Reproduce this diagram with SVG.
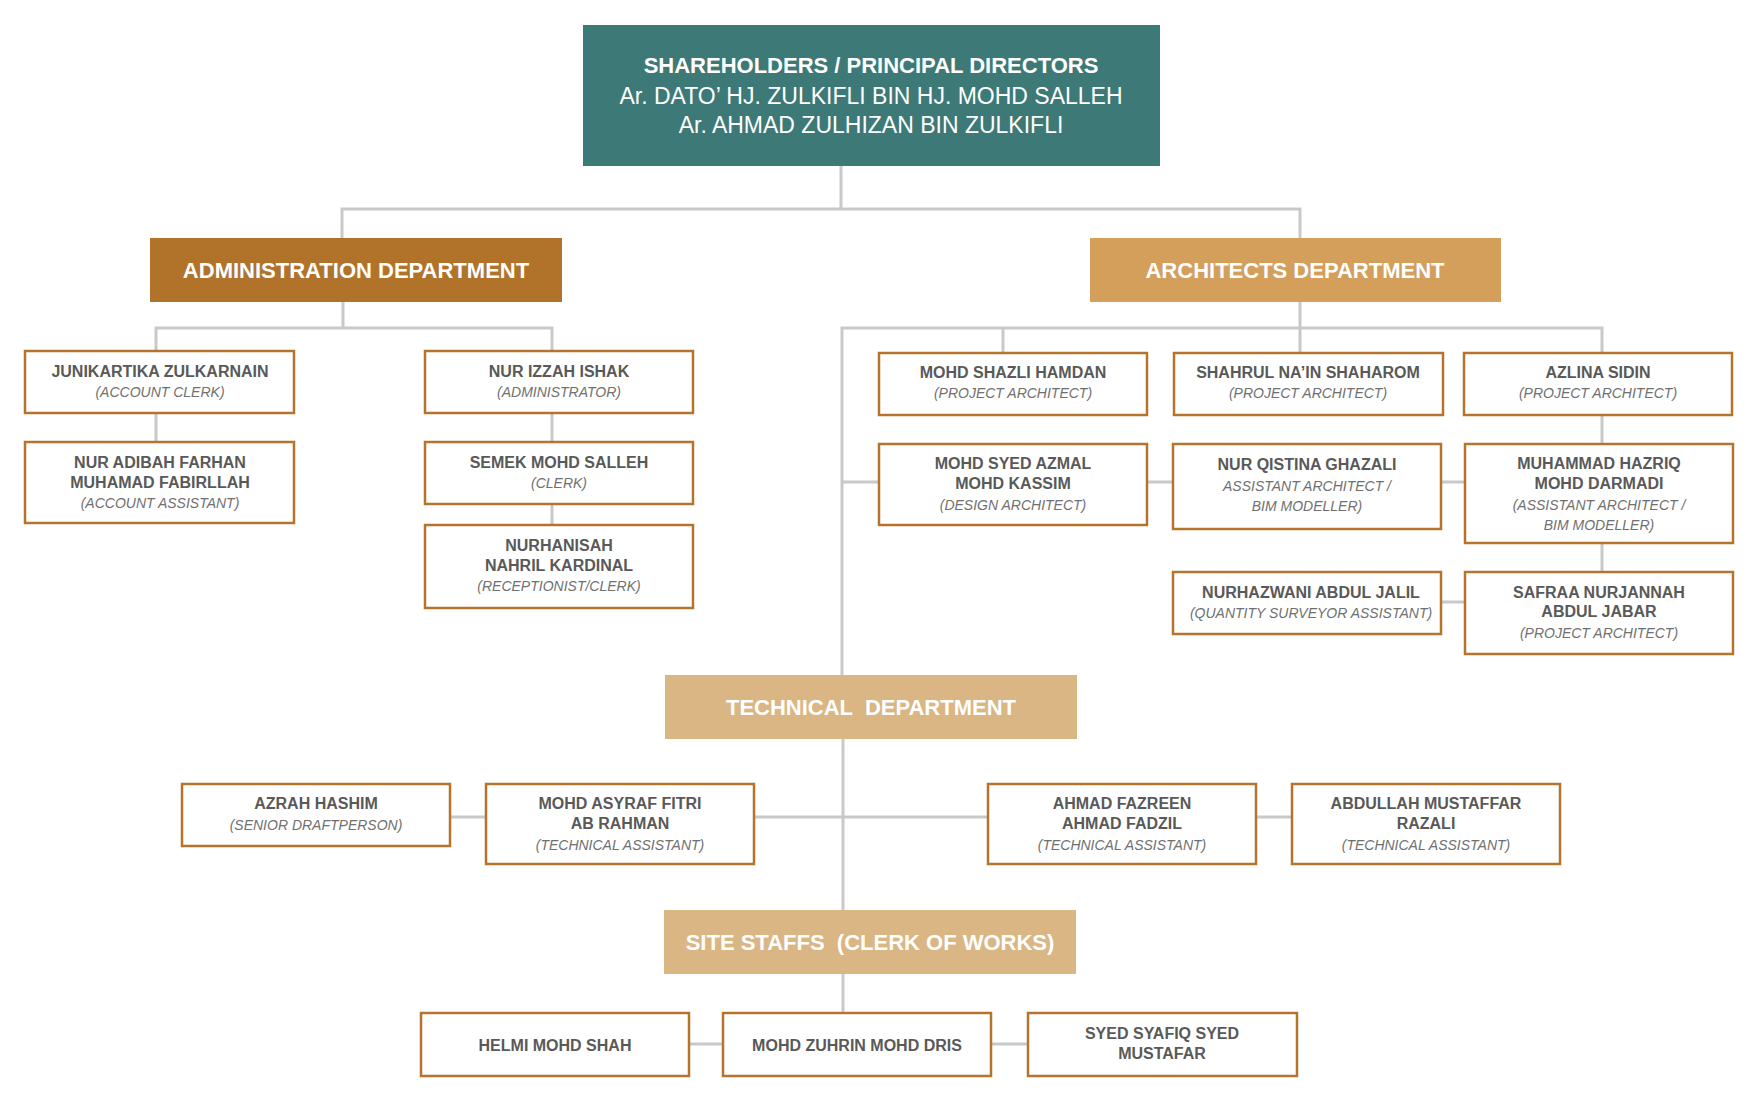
<svg xmlns="http://www.w3.org/2000/svg" width="1762" height="1109" viewBox="0 0 1762 1109">
<style>
.bg{fill:#ffffff}
.conn{fill:none;stroke:#c9c9c9;stroke-width:3}
.box{fill:#ffffff;stroke:#b5742b;stroke-width:2.5}
.nm{font-family:"Liberation Sans",Arial,sans-serif;font-weight:bold;font-size:16px;fill:#595959;text-anchor:middle}
.rl{font-family:"Liberation Sans",Arial,sans-serif;font-style:italic;font-size:14px;fill:#707070;text-anchor:middle}
.hd{font-family:"Liberation Sans",Arial,sans-serif;font-weight:bold;font-size:22px;fill:#ffffff;text-anchor:middle}
.tp{font-family:"Liberation Sans",Arial,sans-serif;font-size:23px;fill:#ffffff;text-anchor:middle}
</style>
<rect class="bg" x="0" y="0" width="1762" height="1109"/>
<g id="connectors">
<path class="conn" d="M841 166 V209"/>
<path class="conn" d="M342 238 V209 H1300 V238"/>
<path class="conn" d="M343 302 V328"/>
<path class="conn" d="M156 351 V328 H552 V351"/>
<path class="conn" d="M156 413 V442"/>
<path class="conn" d="M552 413 V442"/>
<path class="conn" d="M552 504 V525"/>
<path class="conn" d="M1300 302 V353"/>
<path class="conn" d="M842 675 V328 H1602 V353"/>
<path class="conn" d="M1003 328 V353"/>
<path class="conn" d="M842 482 H879"/>
<path class="conn" d="M1147 482 H1173"/>
<path class="conn" d="M1441 482 H1465"/>
<path class="conn" d="M1602 415 V444"/>
<path class="conn" d="M1602 543 V572"/>
<path class="conn" d="M1441 602 H1465"/>
<path class="conn" d="M843 739 V910"/>
<path class="conn" d="M450 817 H486"/>
<path class="conn" d="M754 817 H988"/>
<path class="conn" d="M1256 817 H1292"/>
<path class="conn" d="M843 974 V1013"/>
<path class="conn" d="M689 1044 H723"/>
<path class="conn" d="M991 1044 H1028"/>
</g>
<g id="top">
<rect x="583" y="25" width="577" height="141" fill="#3d7976"/>
<text class="hd" x="871" y="73">SHAREHOLDERS / PRINCIPAL DIRECTORS</text>
<text class="tp" x="871" y="104">Ar. DATO’ HJ. ZULKIFLI BIN HJ. MOHD SALLEH</text>
<text class="tp" x="871" y="133">Ar. AHMAD ZULHIZAN BIN ZULKIFLI</text>
</g>
<g id="admin-dept">
<rect x="150" y="238" width="412" height="64" fill="#b1732a"/>
<text class="hd" x="356" y="278">ADMINISTRATION DEPARTMENT</text>
</g>
<g id="arch-dept">
<rect x="1090" y="238" width="411" height="64" fill="#d49e5b"/>
<text class="hd" x="1295" y="278">ARCHITECTS DEPARTMENT</text>
</g>
<g id="tech-dept">
<rect x="665" y="675" width="412" height="64" fill="#d9b684"/>
<text class="hd" x="871" y="715" xml:space="preserve">TECHNICAL  DEPARTMENT</text>
</g>
<g id="site-dept">
<rect x="664" y="910" width="412" height="64" fill="#d9b684"/>
<text class="hd" x="870" y="950" xml:space="preserve">SITE STAFFS  (CLERK OF WORKS)</text>
</g>
<g id="junikartika">
<rect class="box" x="25" y="351" width="269" height="62"/>
<text class="nm" x="160" y="377">JUNIKARTIKA ZULKARNAIN</text>
<text class="rl" x="160" y="397">(ACCOUNT CLERK)</text>
</g>
<g id="nur-adibah">
<rect class="box" x="25" y="442" width="269" height="81"/>
<text class="nm" x="160" y="468">NUR ADIBAH FARHAN</text>
<text class="nm" x="160" y="488">MUHAMAD FABIRLLAH</text>
<text class="rl" x="160" y="508">(ACCOUNT ASSISTANT)</text>
</g>
<g id="nur-izzah">
<rect class="box" x="425" y="351" width="268" height="62"/>
<text class="nm" x="559" y="377">NUR IZZAH ISHAK</text>
<text class="rl" x="559" y="397">(ADMINISTRATOR)</text>
</g>
<g id="semek">
<rect class="box" x="425" y="442" width="268" height="62"/>
<text class="nm" x="559" y="468">SEMEK MOHD SALLEH</text>
<text class="rl" x="559" y="488">(CLERK)</text>
</g>
<g id="nurhanisah">
<rect class="box" x="425" y="525" width="268" height="83"/>
<text class="nm" x="559" y="551">NURHANISAH</text>
<text class="nm" x="559" y="571">NAHRIL KARDINAL</text>
<text class="rl" x="559" y="591">(RECEPTIONIST/CLERK)</text>
</g>
<g id="mohd-shazli">
<rect class="box" x="879" y="353" width="268" height="62"/>
<text class="nm" x="1013" y="378">MOHD SHAZLI HAMDAN</text>
<text class="rl" x="1013" y="398">(PROJECT ARCHITECT)</text>
</g>
<g id="shahrul">
<rect class="box" x="1174" y="353" width="269" height="62"/>
<text class="nm" x="1308" y="378">SHAHRUL NA’IN SHAHAROM</text>
<text class="rl" x="1308" y="398">(PROJECT ARCHITECT)</text>
</g>
<g id="azlina">
<rect class="box" x="1464" y="353" width="268" height="62"/>
<text class="nm" x="1598" y="378">AZLINA SIDIN</text>
<text class="rl" x="1598" y="398">(PROJECT ARCHITECT)</text>
</g>
<g id="mohd-syed">
<rect class="box" x="879" y="444" width="268" height="81"/>
<text class="nm" x="1013" y="469">MOHD SYED AZMAL</text>
<text class="nm" x="1013" y="489">MOHD KASSIM</text>
<text class="rl" x="1013" y="510">(DESIGN ARCHITECT)</text>
</g>
<g id="nur-qistina">
<rect class="box" x="1173" y="444" width="268" height="85"/>
<text class="nm" x="1307" y="470">NUR QISTINA GHAZALI</text>
<text class="rl" x="1307" y="491">ASSISTANT ARCHITECT /</text>
<text class="rl" x="1307" y="511">BIM MODELLER)</text>
</g>
<g id="muhammad-hazriq">
<rect class="box" x="1465" y="444" width="268" height="99"/>
<text class="nm" x="1599" y="469">MUHAMMAD HAZRIQ</text>
<text class="nm" x="1599" y="489">MOHD DARMADI</text>
<text class="rl" x="1599" y="510">(ASSISTANT ARCHITECT /</text>
<text class="rl" x="1599" y="530">BIM MODELLER)</text>
</g>
<g id="nurhazwani">
<rect class="box" x="1173" y="572" width="268" height="62"/>
<text class="nm" x="1311" y="598">NURHAZWANI ABDUL JALIL</text>
<text class="rl" x="1311" y="618">(QUANTITY SURVEYOR ASSISTANT)</text>
</g>
<g id="safraa">
<rect class="box" x="1465" y="572" width="268" height="82"/>
<text class="nm" x="1599" y="598">SAFRAA NURJANNAH</text>
<text class="nm" x="1599" y="617">ABDUL JABAR</text>
<text class="rl" x="1599" y="638">(PROJECT ARCHITECT)</text>
</g>
<g id="azrah">
<rect class="box" x="182" y="784" width="268" height="62"/>
<text class="nm" x="316" y="809">AZRAH HASHIM</text>
<text class="rl" x="316" y="830">(SENIOR DRAFTPERSON)</text>
</g>
<g id="mohd-asyraf">
<rect class="box" x="486" y="784" width="268" height="80"/>
<text class="nm" x="620" y="809">MOHD ASYRAF FITRI</text>
<text class="nm" x="620" y="829">AB RAHMAN</text>
<text class="rl" x="620" y="850">(TECHNICAL ASSISTANT)</text>
</g>
<g id="ahmad-fazreen">
<rect class="box" x="988" y="784" width="268" height="80"/>
<text class="nm" x="1122" y="809">AHMAD FAZREEN</text>
<text class="nm" x="1122" y="829">AHMAD FADZIL</text>
<text class="rl" x="1122" y="850">(TECHNICAL ASSISTANT)</text>
</g>
<g id="abdullah">
<rect class="box" x="1292" y="784" width="268" height="80"/>
<text class="nm" x="1426" y="809">ABDULLAH MUSTAFFAR</text>
<text class="nm" x="1426" y="829">RAZALI</text>
<text class="rl" x="1426" y="850">(TECHNICAL ASSISTANT)</text>
</g>
<g id="helmi">
<rect class="box" x="421" y="1013" width="268" height="63"/>
<text class="nm" x="555" y="1051">HELMI MOHD SHAH</text>
</g>
<g id="mohd-zuhrin">
<rect class="box" x="723" y="1013" width="268" height="63"/>
<text class="nm" x="857" y="1051">MOHD ZUHRIN MOHD DRIS</text>
</g>
<g id="syed-syafiq">
<rect class="box" x="1028" y="1013" width="269" height="63"/>
<text class="nm" x="1162" y="1039">SYED SYAFIQ SYED</text>
<text class="nm" x="1162" y="1059">MUSTAFAR</text>
</g>
</svg>
